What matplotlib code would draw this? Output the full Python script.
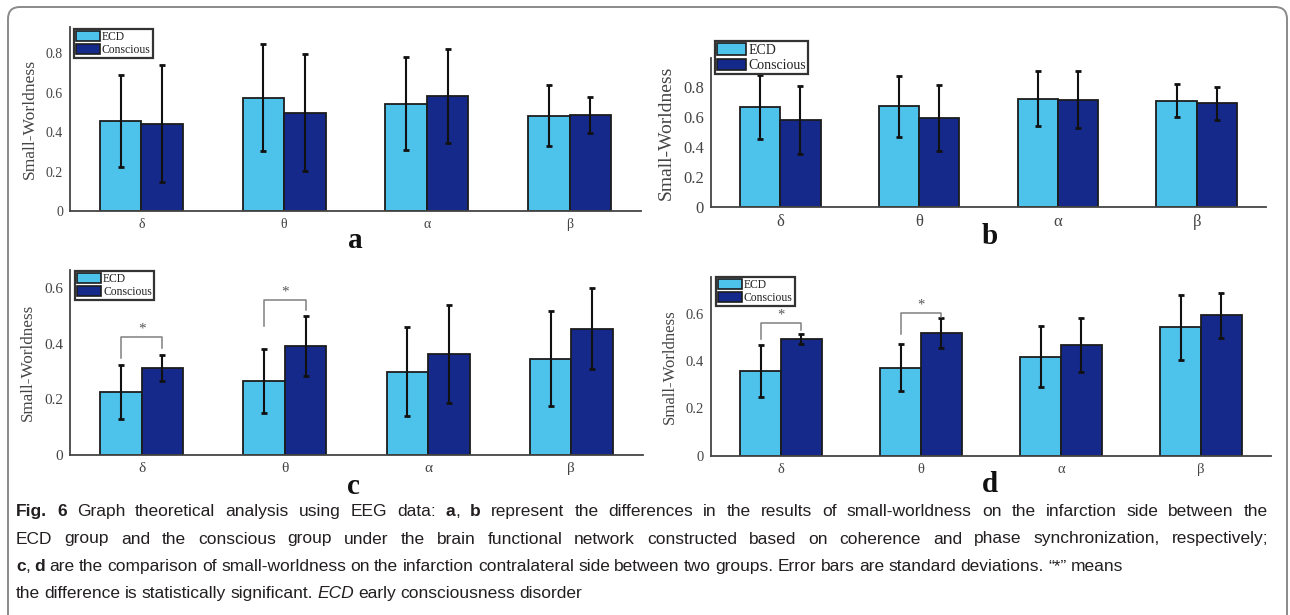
import matplotlib
matplotlib.use("Agg")
import matplotlib.pyplot as plt
from matplotlib.patches import Patch, FancyBboxPatch
from matplotlib.transforms import IdentityTransform
import numpy as np

W, H = 1290, 615

bands = ['δ', 'θ', 'α', 'β']
groups = ['ECD', 'Conscious']

# panel a
a_ecd = [0.458, 0.575, 0.545, 0.483]
a_ecd_sd = [0.233, 0.27, 0.237, 0.154]
a_con = [0.443, 0.498, 0.582, 0.488]
a_con_sd = [0.297, 0.297, 0.239, 0.09]

# panel b
b_ecd = [0.662, 0.668, 0.72, 0.705]
b_ecd_sd = [0.212, 0.2, 0.184, 0.11]
b_con = [0.576, 0.59, 0.712, 0.688]
b_con_sd = [0.227, 0.22, 0.19, 0.11]

# panel c
c_ecd = [0.227, 0.265, 0.30, 0.346]
c_ecd_sd = [0.096, 0.115, 0.159, 0.171]
c_con = [0.312, 0.393, 0.364, 0.455]
c_con_sd = [0.047, 0.109, 0.177, 0.145]

# panel d
d_ecd = [0.358, 0.373, 0.42, 0.543]
d_ecd_sd = [0.11, 0.099, 0.13, 0.137]
d_con = [0.494, 0.519, 0.468, 0.594]
d_con_sd = [0.023, 0.065, 0.114, 0.094]

# significance brackets: (band index, top, left leg end, right leg end)
c_sig = [(0, 0.424, 0.351, 0.385), (1, 0.557, 0.466, 0.522)]
d_sig = [(0, 0.562, 0.494, 0.534), (1, 0.606, 0.514, 0.587)]

col_ecd = '#4dc3ec'
col_con = '#15298b'
serif = ['Liberation Serif', 'DejaVu Serif']

fig = plt.figure(figsize=(W / 100, H / 100), dpi=100)


def px_axes(l, r, b, t):
    return fig.add_axes([l / W, 1 - b / H, (r - l) / W, (b - t) / H])


def panel(box, ecd, ecd_sd, con, con_sd, ymax, yticks, fs, lab_fs, leg_box, leg_fs, sig, letter):
    ax = px_axes(*box)
    x = np.arange(1, len(bands) + 1)
    w = 0.29
    ax.bar(x - w / 2, ecd, w, color=col_ecd, edgecolor='#1c1c1c', linewidth=1.3, zorder=2)
    ax.bar(x + w / 2, con, w, color=col_con, edgecolor='#1c1c1c', linewidth=1.3, zorder=2)
    ax.errorbar(x - w / 2, ecd, yerr=ecd_sd, fmt='none', ecolor='#111', elinewidth=1.5,
                capsize=2.2, capthick=2, zorder=3)
    ax.errorbar(x + w / 2, con, yerr=con_sd, fmt='none', ecolor='#111', elinewidth=1.5,
                capsize=2.2, capthick=2, zorder=3)
    ax.set_xlim(0.5, 4.5)
    ax.set_ylim(0, ymax)
    ax.set_xticks(x)
    ax.set_xticklabels(bands, family=serif, fontsize=fs, color='#444')
    ax.set_yticks(yticks)
    ax.set_yticklabels(['0' if v == 0 else f'{v:.1f}' for v in yticks],
                       family=serif, fontsize=fs, color='#444')
    ax.tick_params(length=0, pad=5)
    ax.set_ylabel('Small-Worldness', family=serif, fontsize=lab_fs, color='#444', labelpad=6)
    for s in ['top', 'right']:
        ax.spines[s].set_visible(False)
    for s in ['left', 'bottom']:
        ax.spines[s].set_color('#444')
        ax.spines[s].set_linewidth(1.3)

    for i, top, yl, yr in sig:
        xl, xr = x[i] - w / 2, x[i] + w / 2
        ax.plot([xl, xl, xr, xr], [yl, top, top, yr], color='#808080', lw=1.1, zorder=4)
        ax.annotate('*', (x[i], top), xytext=(0, 1), textcoords='offset points',
                    ha='center', va='bottom', family=serif, fontsize=fs, color='#555')

    handles = [Patch(facecolor=col_ecd, edgecolor='#1c1c1c', lw=1.2, label=groups[0]),
               Patch(facecolor=col_con, edgecolor='#1c1c1c', lw=1.2, label=groups[1])]
    leg = ax.legend(handles=handles, loc='upper left',
                    bbox_to_anchor=(leg_box[0] / W, 1 - leg_box[1] / H),
                    bbox_transform=fig.transFigure, prop={'family': serif, 'size': leg_fs},
                    frameon=True, fancybox=False, edgecolor='#333', framealpha=1,
                    handlelength=2.1, handleheight=0.95, handletextpad=0.15,
                    borderpad=0.15, labelspacing=0.12, borderaxespad=0)
    leg.get_frame().set_linewidth(1.6)
    for t in leg.get_texts():
        t.set_color('#222')

    fig.text(letter[1] / W, 1 - letter[2] / H, letter[0], ha='center', va='center',
             family=serif, fontweight='bold', fontsize=21, color='#111')
    return ax


panel((70, 641, 211, 26.7), a_ecd, a_ecd_sd, a_con, a_con_sd, 0.935,
      [0, 0.2, 0.4, 0.6, 0.8], 10, 12.6, (74, 29), 8.4, [], ('a', 355, 240))
panel((711, 1266, 207, 58), b_ecd, b_ecd_sd, b_con, b_con_sd, 0.99,
      [0, 0.2, 0.4, 0.6, 0.8], 12, 14, (715, 41), 10, [], ('b', 990, 237))
panel((70, 643, 455, 270), c_ecd, c_ecd_sd, c_con, c_con_sd, 0.666,
      [0, 0.2, 0.4, 0.6], 11, 12.3, (75, 271), 8.4, c_sig, ('c', 353, 487))
panel((711, 1271, 455.7, 276.7), d_ecd, d_ecd_sd, d_con, d_con_sd, 0.758,
      [0, 0.2, 0.4, 0.6], 10.5, 12.1, (716, 277), 8.4, d_sig, ('d', 990, 485))

# outer rounded frame (display coords, origin bottom-left)
frame = FancyBboxPatch((8, -20), 1279, H - 7 + 20, boxstyle='round,pad=0,rounding_size=12',
                       transform=IdentityTransform(), fill=False, edgecolor='#8a8a8a', lw=1.4)
fig.patches.append(frame)

# caption
cap_font = ['Liberation Sans', 'DejaVu Sans']
cap_size = 12.5
caption = [
    [("Fig. 6", 'b'), ("  Graph theoretical analysis using EEG data: ", 'n'), ("a", 'b'), (", ", 'n'),
     ("b", 'b'), (" represent the differences in the results of small-worldness on the infarction side between the", 'n')],
    [("ECD group and the conscious group under the brain functional network constructed based on coherence and phase synchronization, respectively;", 'n')],
    [("c", 'b'), (", ", 'n'), ("d", 'b'),
     (" are the comparison of small-worldness on the infarction contralateral side between two groups. Error bars are standard deviations. \u201c*\u201d means", 'n')],
    [("the difference is statistically significant. ", 'n'), ("ECD", 'i'), (" early consciousness disorder", 'n')],
]
cap_base = [516, 543.5, 571, 598]
cap_justify = [True, True, False, False]
cap_x0, cap_x1 = 16, 1268

renderer = fig.canvas.get_renderer()


def tokens_of(runs):
    toks, space = [], False
    for text, st in runs:
        parts = text.split(' ')
        for i, p in enumerate(parts):
            if i > 0:
                space = True
            if p == '':
                continue
            toks.append((p, st, space))
            space = False
    return toks


def make_text(s, st, size, x=0, y=0):
    return fig.text(x / W, 1 - y / H, s, family=cap_font, fontsize=size, color='#231f20',
                    fontweight='bold' if st == 'b' else 'normal',
                    fontstyle='italic' if st == 'i' else 'normal', va='baseline', ha='left')


def widths(toks, size):
    out = []
    for s, st, _ in toks:
        t = make_text(s, st, size)
        out.append(t.get_window_extent(renderer).width)
        t.remove()
    return out


space_w = 0.25 * cap_size * 100 / 72

for runs, yb, just in zip(caption, cap_base, cap_justify):
    toks = tokens_of(runs)
    ws = widths(toks, cap_size)
    ngap = sum(1 for tk in toks if tk[2])
    gap = (cap_x1 - cap_x0 - sum(ws)) / ngap if just else space_w
    xpos = cap_x0
    for (s, st, sp), wd in zip(toks, ws):
        if sp:
            xpos += gap
        make_text(s, st, cap_size, xpos, yb)
        xpos += wd

fig.savefig('out.png', dpi=100)
